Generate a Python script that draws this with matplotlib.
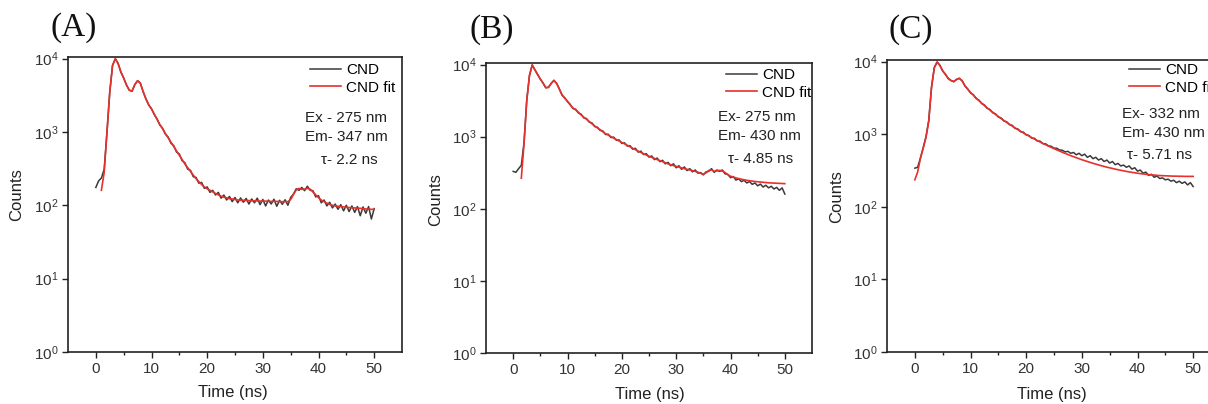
import numpy as np
import matplotlib
matplotlib.use('Agg')
import matplotlib.pyplot as plt

data_a = [175, 215, 235, 310, 980, 3450, 8100, 9900, 8600, 6500, 5450, 4350, 3720, 3580,
          4420, 4980, 4620, 3520, 2830, 2320, 2080, 1720, 1500, 1240, 1120, 930, 850, 700,
          650, 530, 500, 405, 380, 310, 300, 245, 240, 200, 205, 170, 178, 150, 160, 138,
          150, 125, 138, 118, 132, 112, 128, 108, 126, 110, 124, 104, 122, 108, 125, 102,
          120, 98, 118, 104, 121, 97, 117, 103, 119, 100, 128, 142, 168, 160, 175, 158,
          182, 160, 158, 130, 135, 108, 118, 98, 110, 92, 104, 88, 102, 84, 100, 82, 98,
          80, 96, 72, 95, 78, 96, 65, 90]
fit_a = [160, 280, 1000, 3500, 8000, 10000, 8500, 6600, 5400, 4400, 3700, 3600, 4400,
         5000, 4600, 3550, 2800, 2350, 2050, 1750, 1480, 1260, 1100, 950, 830, 725, 630,
         550, 480, 420, 365, 325, 290, 258, 230, 210, 192, 178, 168, 160, 152, 145, 139,
         133, 129, 126, 123, 122, 120, 118, 117, 117, 116, 116, 115, 115, 115, 114, 114,
         114, 113, 113, 113, 113, 112, 112, 112, 112, 120, 140, 162, 170, 165, 166, 170,
         166, 152, 139, 127, 118, 112, 107, 103, 100, 98, 97, 96, 95, 94, 93, 93, 92, 91,
         91, 90, 89, 89, 88, 88]

data_b = [330, 320, 360, 400, 830, 3200, 7000, 9900, 8400, 7300, 6250, 5550, 4750, 4850,
          5450, 6050, 5450, 4600, 3750, 3450, 3050, 2800, 2450, 2400, 2130, 2050, 1820,
          1780, 1590, 1550, 1380, 1350, 1220, 1200, 1070, 1080, 970, 985, 890, 900, 805,
          820, 740, 750, 670, 690, 610, 630, 565, 580, 520, 540, 480, 505, 450, 470, 420,
          440, 395, 420, 370, 395, 352, 380, 338, 360, 325, 345, 312, 318, 295, 325, 330,
          360, 320, 345, 330, 345, 305, 300, 270, 280, 250, 260, 238, 248, 228, 238, 218,
          228, 208, 220, 200, 212, 195, 205, 188, 198, 180, 195, 160]
fit_b = [265, 800, 3150, 7100, 9800, 8500, 7250, 6300, 5500, 4800, 4800, 5500, 6000, 5500,
         4550, 3800, 3400, 3100, 2750, 2500, 2350, 2180, 2000, 1860, 1740, 1620, 1510, 1410,
         1320, 1250, 1170, 1100, 1050, 1000, 955, 910, 870, 830, 795, 760, 725, 690, 660,
         630, 605, 580, 556, 535, 515, 500, 480, 465, 450, 435, 420, 408, 397, 387, 378,
         368, 360, 352, 345, 338, 330, 322, 310, 302, 315, 340, 345, 332, 335, 340, 333,
         318, 297, 283, 275, 268, 262, 257, 252, 248, 245, 242, 239, 237, 235, 233, 231,
         229, 228, 227, 226, 225, 224, 223]

data_c = [340, 350, 470, 650, 920, 1550, 4400, 8300, 9800, 8900, 7400, 6700, 5800, 5500,
          5250, 5700, 5850, 5450, 4600, 4200, 3700, 3500, 3100, 2950, 2640, 2520, 2270,
          2180, 1970, 1900, 1720, 1670, 1520, 1480, 1350, 1320, 1200, 1180, 1080, 1065, 975,
          960, 880, 875, 805, 800, 740, 735, 690, 680, 640, 640, 605, 600, 570, 580, 545,
          560, 520, 545, 505, 530, 480, 505, 460, 480, 440, 460, 420, 440, 400, 420, 380,
          395, 365, 375, 350, 365, 330, 345, 310, 320, 290, 300, 270, 280, 255, 265, 245,
          250, 235, 240, 225, 232, 215, 225, 210, 220, 200, 215, 190]
fit_c = [235, 300, 460, 640, 900, 1500, 4500, 8200, 9900, 8800, 7500, 6600, 5900, 5450,
         5350, 5650, 5900, 5400, 4650, 4150, 3750, 3450, 3150, 2900, 2680, 2480, 2300, 2140,
         2000, 1870, 1750, 1640, 1540, 1450, 1370, 1290, 1220, 1155, 1095, 1040, 990, 940,
         895, 855, 815, 780, 745, 715, 685, 658, 632, 608, 585, 563, 543, 524, 506, 490,
         474, 459, 445, 432, 420, 408, 397, 387, 377, 368, 359, 351, 344, 337, 330, 324,
         318, 312, 307, 302, 298, 294, 290, 286, 283, 280, 277, 275, 273, 271, 269, 268,
         267, 266, 265, 264, 264, 263, 263, 262, 262, 262, 262]

panel_labels = ['(A)', '(B)', '(C)']
fit_starts = [1.0, 1.5, 0.0]
ex_texts = ['Ex - 275 nm', 'Ex- 275 nm', 'Ex- 332 nm']
em_texts = ['Em- 347 nm', 'Em- 430 nm', 'Em- 430 nm']
tau_texts = ['\u03c4- 2.2 ns', '\u03c4- 4.85 ns', '\u03c4- 5.71 ns']

W, H = 1208, 404
plt.rcParams['font.family'] = ['Liberation Sans', 'DejaVu Sans']
plt.rcParams['mathtext.fontset'] = 'custom'
plt.rcParams['mathtext.rm'] = 'Liberation Sans'
plt.rcParams['mathtext.it'] = 'Liberation Sans:italic'

fig = plt.figure(figsize=(W / 100, H / 100), dpi=100)

def fx(x):
    return x / W

def fy(y):
    return 1 - y / H

# pixel boxes: left, top, right, bottom
boxes = [(68, 57, 402, 352), (486, 63, 812, 353), (887, 60, 1221, 352)]
title_pos = [(74, 28), (492, 30), (911, 30)]
ylabel_pos = [(17, 195), (436, 200), (837, 197)]
xlabel_pos = [(233, 393), (650, 395), (1052, 395)]
legend_pos = [(310, 63), (726, 68), (1129, 63)]
ex_pos = [(305, 118), (718, 117), (1122, 114)]
em_pos = [(305, 137), (718, 136), (1122, 133)]
tau_pos = [(378, 160), (793, 159), (1192, 155)]

datas = [data_a, data_b, data_c]
fits = [fit_a, fit_b, fit_c]

for i in range(3):
    l, t, r, b = boxes[i]
    ax = fig.add_axes([fx(l), fy(b), (r - l) / W, (b - t) / H])
    tdata = np.linspace(0, 50, len(datas[i]))
    tfit = np.linspace(fit_starts[i], 50, len(fits[i]))
    ax.plot(tdata, datas[i], color='#3a3a3a', lw=1.1, label='CND')
    ax.plot(tfit, fits[i], color='#e8302c', lw=1.2, label='CND fit')
    ax.set_yscale('log')
    ax.set_ylim(1, 1.05e4)
    ax.set_xlim(-5, 55)
    ax.set_xticks([0, 10, 20, 30, 40, 50])
    ax.set_xticks([5, 15, 25, 35, 45], minor=True)
    ax.set_yticks([1, 10, 100, 1000, 10000])
    ax.yaxis.set_minor_locator(matplotlib.ticker.NullLocator())
    ax.tick_params(which='major', length=4, width=1, direction='out', labelsize=11,
                   colors='#222222', labelcolor='#333333', pad=3)
    ax.tick_params(which='minor', length=2.5, width=1, direction='out', colors='#222222')
    for sp in ax.spines.values():
        sp.set_linewidth(1.2)
        sp.set_color('#222222')
    ax.set_ylabel('Counts', fontsize=12, color='#222222')
    ax.yaxis.set_label_coords(fx(ylabel_pos[i][0]), fy(ylabel_pos[i][1]), transform=fig.transFigure)
    ax.set_xlabel('Time (ns)', fontsize=12, color='#222222')
    ax.xaxis.set_label_coords(fx(xlabel_pos[i][0]), fy(xlabel_pos[i][1]), transform=fig.transFigure)
    ax.xaxis.label.set_va('center')
    ax.yaxis.label.set_va('center')
    lx, ly = legend_pos[i]
    ax.legend(loc='upper left', bbox_to_anchor=(fx(lx), fy(ly)), bbox_transform=fig.transFigure,
              frameon=False, fontsize=11, borderpad=0, borderaxespad=0, handlelength=2.0,
              handletextpad=0.35, labelspacing=0.25)
    fig.text(fx(ex_pos[i][0]), fy(ex_pos[i][1]), ex_texts[i], ha='left', va='center',
             fontsize=11, color='#222222')
    fig.text(fx(em_pos[i][0]), fy(em_pos[i][1]), em_texts[i], ha='left', va='center',
             fontsize=11, color='#222222')
    fig.text(fx(tau_pos[i][0]), fy(tau_pos[i][1]), tau_texts[i], ha='right', va='center',
             fontsize=11, color='#222222')
    fig.text(fx(title_pos[i][0]), fy(title_pos[i][1]), panel_labels[i], ha='center', va='center',
             fontsize=24, family='Liberation Serif', color='#111111')

fig.savefig('out.png', dpi=100)
